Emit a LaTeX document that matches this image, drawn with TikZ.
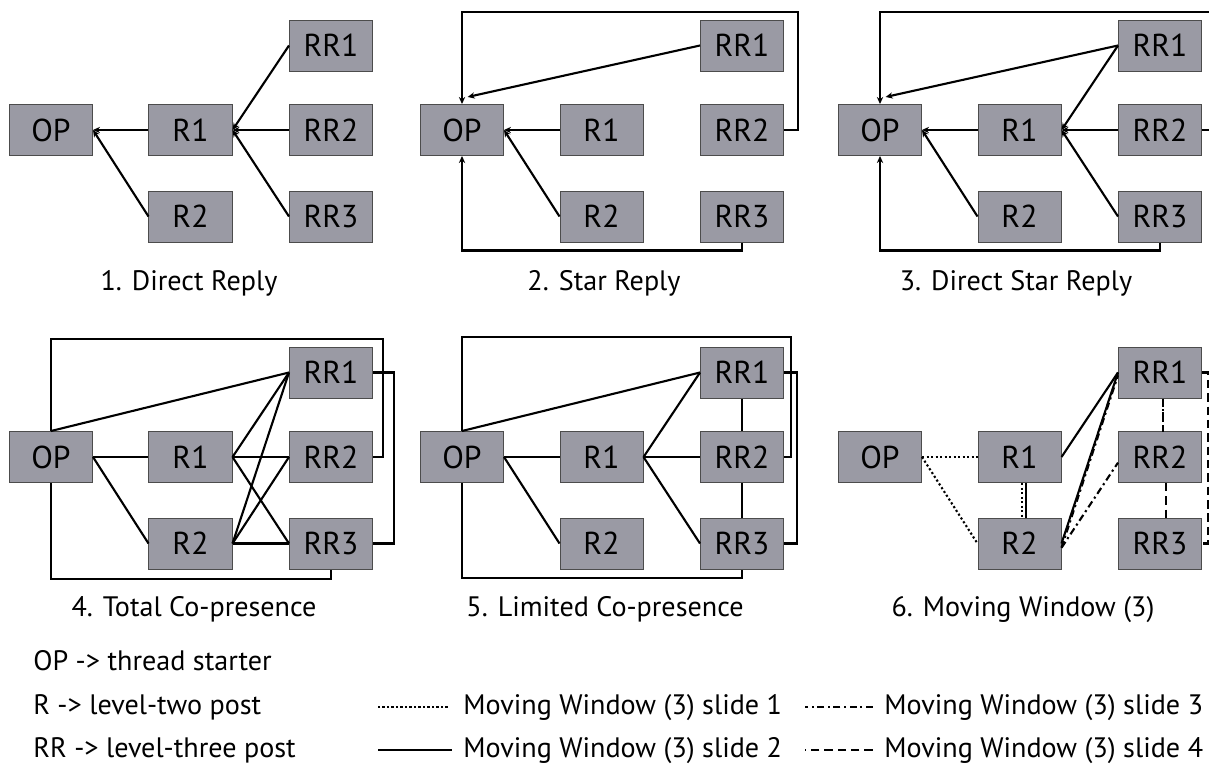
\documentclass[tikz,border=0pt]{standalone}
\usepackage{fontspec}
\setmainfont{PT Sans}
\usepackage{tikz}
\usepackage{xcolor}
\usetikzlibrary{arrows.meta}

\definecolor{postgray}{RGB}{154,154,164}

\begin{document}
\begin{tikzpicture}[
          x=0.025cm, y=-0.025cm,
          post/.style={draw=black!70, line width=0.7pt, fill=postgray, minimum width=2.075cm, minimum height=1.275cm, inner sep=0pt, font=\fontsize{22.5}{24}\selectfont},
          lnk/.style={line width=1.5pt},
          rep/.style={lnk, -{Stealth[length=5pt,width=4.5pt]}},
          slideA/.style={lnk, dash pattern=on 1.5pt off 1.7pt},
          slideB/.style={lnk},
          slideC/.style={lnk, dash pattern=on 5pt off 2.5pt on 1.5pt off 2.5pt},
          slideD/.style={lnk, dash pattern=on 6pt off 3.5pt},
          ptitle/.style={anchor=base, font=\fontsize{20}{22}\selectfont},
          lgd/.style={anchor=base west, inner sep=0pt, font=\fontsize{20}{22}\selectfont}
      ]
        \useasboundingbox (0,0) rectangle (1209,763);

        \node[post] (p1op) at (51,130) {OP};
        \node[post] (p1r1) at (190.5,130) {R1};
        \node[post] (p1r2) at (190.5,216.5) {R2};
        \node[post] (p1rr1) at (331,45.5) {RR1};
        \node[post] (p1rr2) at (331,130) {RR2};
        \node[post] (p1rr3) at (331,216.5) {RR3};
        \node[ptitle] (c1) at (189,290) {1. Direct Reply};
        \draw[rep] (p1r1.west) -- (p1op.east);
        \draw[rep] (p1r2.west) -- (p1op.east);
        \draw[rep] (p1rr1.west) -- (p1r1.east);
        \draw[rep] (p1rr2.west) -- (p1r1.east);
        \draw[rep] (p1rr3.west) -- (p1r1.east);

        \begin{scope}[shift={(411,0)}]
        \node[post] (p2op) at (51,130) {OP};
        \node[post] (p2r1) at (190.5,130) {R1};
        \node[post] (p2r2) at (190.5,216.5) {R2};
        \node[post] (p2rr1) at (331,45.5) {RR1};
        \node[post] (p2rr2) at (331,130) {RR2};
        \node[post] (p2rr3) at (331,216.5) {RR3};
        \node[ptitle] (c2) at (193,290) {2. Star Reply};
        \end{scope}
        \draw[rep] (p2r1.west) -- (p2op.east);
        \draw[rep] (p2r2.west) -- (p2op.east);
        \draw[rep] (p2rr1.west) -- ([xshift=4pt,yshift=5pt]p2op.north);
        \draw[rep] (p2rr2.east) -- ++(14,0) -- ++(0,-118) -| (p2op.north);
        \draw[rep] (p2rr3.south) -- ++(0,8) -| (p2op.south);

        \begin{scope}[shift={(829,0)}]
        \node[post] (p3op) at (51,130) {OP};
        \node[post] (p3r1) at (190.5,130) {R1};
        \node[post] (p3r2) at (190.5,216.5) {R2};
        \node[post] (p3rr1) at (331,45.5) {RR1};
        \node[post] (p3rr2) at (331,130) {RR2};
        \node[post] (p3rr3) at (331,216.5) {RR3};
        \node[ptitle] (c3) at (187,290) {3. Direct Star Reply};
        \end{scope}
        \draw[rep] (p3r1.west) -- (p3op.east);
        \draw[rep] (p3r2.west) -- (p3op.east);
        \draw[rep] (p3rr1.west) -- (p3r1.east);
        \draw[rep] (p3rr2.west) -- (p3r1.east);
        \draw[rep] (p3rr3.west) -- (p3r1.east);
        \draw[rep] (p3rr1.west) -- ([xshift=4pt,yshift=5pt]p3op.north);
        \draw[rep] (p3rr2.east) -- ++(20,0) -- ++(0,-118) -| (p3op.north);
        \draw[rep] (p3rr3.south) -- ++(0,8) -| (p3op.south);

        \begin{scope}[shift={(0,327)}]
        \node[post] (p4op) at (51,130) {OP};
        \node[post] (p4r1) at (190.5,130) {R1};
        \node[post] (p4r2) at (190.5,216.5) {R2};
        \node[post] (p4rr1) at (331,45.5) {RR1};
        \node[post] (p4rr2) at (331,130) {RR2};
        \node[post] (p4rr3) at (331,216.5) {RR3};
        \node[ptitle] (c4) at (194,289) {4. Total Co-presence};
        \end{scope}
        \draw[lnk] (p4op.east) -- (p4r1.west);
        \draw[lnk] (p4op.east) -- (p4r2.west);
        \draw[lnk] (p4op.north) -- (p4rr1.west);
        \draw[lnk] (p4r1.east) -- (p4rr1.west);
        \draw[lnk] (p4r1.east) -- (p4rr2.west);
        \draw[lnk] (p4r1.east) -- (p4rr3.west);
        \draw[lnk] (p4r2.east) -- (p4rr1.west);
        \draw[lnk] (p4r2.east) -- (p4rr2.west);
        \draw[lnk] (p4r2.east) -- (p4rr3.west);
        \draw[lnk] (p4op.north) -- ++(0,-92) -- ++(332,0) |- (p4rr2.east);
        \draw[lnk] (p4rr1.east) -- ++(21,0) |- (p4rr3.east);
        \draw[lnk] (p4op.south) -- ++(0,96) -| (p4rr3.south);

        \begin{scope}[shift={(411,327)}]
        \node[post] (p5op) at (51,130) {OP};
        \node[post] (p5r1) at (190.5,130) {R1};
        \node[post] (p5r2) at (190.5,216.5) {R2};
        \node[post] (p5rr1) at (331,45.5) {RR1};
        \node[post] (p5rr2) at (331,130) {RR2};
        \node[post] (p5rr3) at (331,216.5) {RR3};
        \node[ptitle] (c5) at (194,289) {5. Limited Co-presence};
        \end{scope}
        \draw[lnk] (p5op.east) -- (p5r1.west);
        \draw[lnk] (p5op.east) -- (p5r2.west);
        \draw[lnk] (p5op.north) -- (p5rr1.west);
        \draw[lnk] (p5r1.east) -- (p5rr1.west);
        \draw[lnk] (p5r1.east) -- (p5rr2.west);
        \draw[lnk] (p5r1.east) -- (p5rr3.west);
        \draw[lnk] (p5rr1) -- (p5rr2);
        \draw[lnk] (p5rr2) -- (p5rr3);
        \draw[lnk] (p5op.north) -- ++(0,-94) -- ++(329,0) |- (p5rr2.east);
        \draw[lnk] (p5rr1.east) -- ++(13,0) |- (p5rr3.east);
        \draw[lnk] (p5op.south) -- ++(0,95) -| (p5rr3.south);

        \begin{scope}[shift={(829,327)}]
        \node[post] (p6op) at (51,130) {OP};
        \node[post] (p6r1) at (190.5,130) {R1};
        \node[post] (p6r2) at (190.5,216.5) {R2};
        \node[post] (p6rr1) at (331,45.5) {RR1};
        \node[post] (p6rr2) at (331,130) {RR2};
        \node[post] (p6rr3) at (331,216.5) {RR3};
        \node[ptitle] (c6) at (194,289) {6. Moving Window (3)};
        \end{scope}
        \draw[slideA] (p6op.east) -- (p6r1.west);
        \draw[slideA] (p6op.east) -- (p6r2.west);
        \draw[slideA] ([xshift=1.5pt]p6r1.south) -- ([xshift=1.5pt]p6r2.north);
        \draw[slideB] ([xshift=4.5pt]p6r1.south) -- ([xshift=4.5pt]p6r2.north);
        \draw[slideB] (p6r1.east) -- (p6rr1.west);
        \draw[slideB] (p6r2.east) -- (p6rr1.west);
        \draw[slideC] ([yshift=-3pt]p6r2.east) -- ([yshift=-2pt]p6rr1.west);
        \draw[slideC] ([yshift=-3pt]p6r2.east) -- ([yshift=-4pt]p6rr2.west);
        \draw[slideC] ([xshift=2pt]p6rr1.south) -- ([xshift=2pt]p6rr2.north);
        \draw[slideD] ([xshift=2pt]p6rr1.south) -- ([xshift=2pt]p6rr2.north);
        \draw[slideD] ([xshift=4pt]p6rr2.south) -- ([xshift=4pt]p6rr3.north);
        \draw[slideD] (p6rr1.east) -- ++(6,0) |- (p6rr3.east);

        \node[lgd] (k1) at (33,670) {OP -> thread starter};
        \node[lgd] (k2) at (33,714) {R -> level-two post};
        \node[lgd] (k3) at (33,757) {RR -> level-three post};
        \node[lgd] (k4) at (463,714) {Moving Window (3) slide 1};
        \node[lgd] (k5) at (463,757) {Moving Window (3) slide 2};
        \node[lgd] (k6) at (884,714) {Moving Window (3) slide 3};
        \node[lgd] (k7) at (884,757) {Moving Window (3) slide 4};
        \draw[slideA, line width=1pt] ([xshift=-11pt,yshift=5pt]k4.base west) -- ++(-70,0);
        \draw[slideB] ([xshift=-8pt,yshift=5pt]k5.base west) -- ++(-74,0);
        \draw[slideC] ([xshift=-8pt,yshift=5pt]k6.base west) -- ++(-68,0);
        \draw[slideD] ([xshift=-8pt,yshift=5pt]k7.base west) -- ++(-68,0);
      \end{tikzpicture}
\end{document}
